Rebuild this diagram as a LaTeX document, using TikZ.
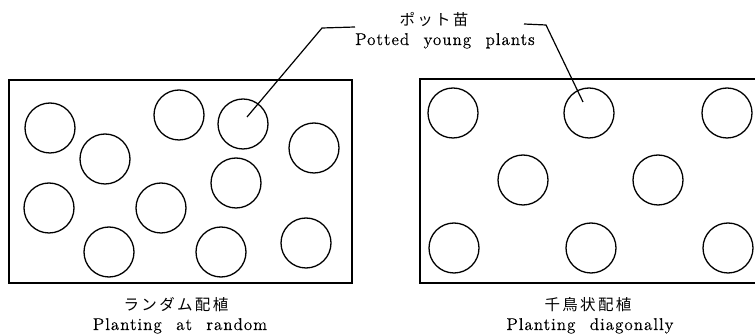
\documentclass[tikz,border=0pt]{standalone}
\usepackage{fontspec}
\newfontfamily\jpfont[LetterSpace=15]{Noto Sans CJK JP}
\newfontfamily\enfam{lmroman12-regular}[Extension=.otf, LetterSpace=6, WordSpace=2.2, FakeBold=0.5]
\tikzset{
  frame/.style={line width=1.5pt},
  pot/.style={circle, draw, minimum size=50pt, inner sep=0pt, line width=1.3pt},
  leader/.style={line width=1.2pt},
  jplabel/.style={inner sep=0pt, font=\jpfont\fontsize{15.5}{18}\selectfont},
  enlabel/.style={inner sep=0pt, font=\enfam\fontsize{17}{20}\selectfont},
}
\begin{document}
\begin{tikzpicture}[x=1pt, y=-1pt]
\useasboundingbox (0,0) rectangle (755,336);
\clip (0,0) rectangle (755,336);
% boxes
\draw[frame] (9,80) rectangle (352,283);
\draw[frame] (420,79) rectangle (758,283);
% random planting
\node[pot] (l1) at (50,128) {};
\node[pot] (l2) at (105,159) {};
\node[pot] (l3) at (179,115) {};
\node[pot] (l4) at (243,124) {};
\node[pot] (l5) at (314,148) {};
\node[pot] (l6) at (236,183) {};
\node[pot] (l7) at (49,208) {};
\node[pot] (l8) at (161,208) {};
\node[pot] (l9) at (109,252) {};
\node[pot] (l10) at (221,252) {};
\node[pot] (l11) at (306,243) {};
% diagonal planting
\node[pot] (r1) at (453,113) {};
\node[pot] (r2) at (589,113) {};
\node[pot] (r3) at (727,113) {};
\node[pot] (r4) at (523,180) {};
\node[pot] (r5) at (658,180) {};
\node[pot] (r6) at (454,248) {};
\node[pot] (r7) at (591,248) {};
\node[pot] (r8) at (728,248) {};
% labels
\node[jplabel] (potjp) at (434,20) {ポット苗};
\node[enlabel, anchor=base] (poten) at (445,45) {Potted young plants};
\node[jplabel] (ljp) at (176,305) {ランダム配植};
\node[enlabel, anchor=base] (len) at (180,330) {Planting at random};
\node[jplabel] (rjp) at (588,305) {千鳥状配植};
\node[enlabel, anchor=base] (ren) at (590,330) {Planting diagonally};
% leaders
\coordinate (lt) at (247,117);
\coordinate (lb) at (322,28);
\coordinate (le) at (355,27);
\draw[leader] (lt) -- (lb) -- (le);
\coordinate (rt) at (583,102);
\coordinate (rb) at (546,25);
\coordinate (re) at (524,24);
\draw[leader] (rt) -- (rb) -- (re);
\end{tikzpicture}
\end{document}
